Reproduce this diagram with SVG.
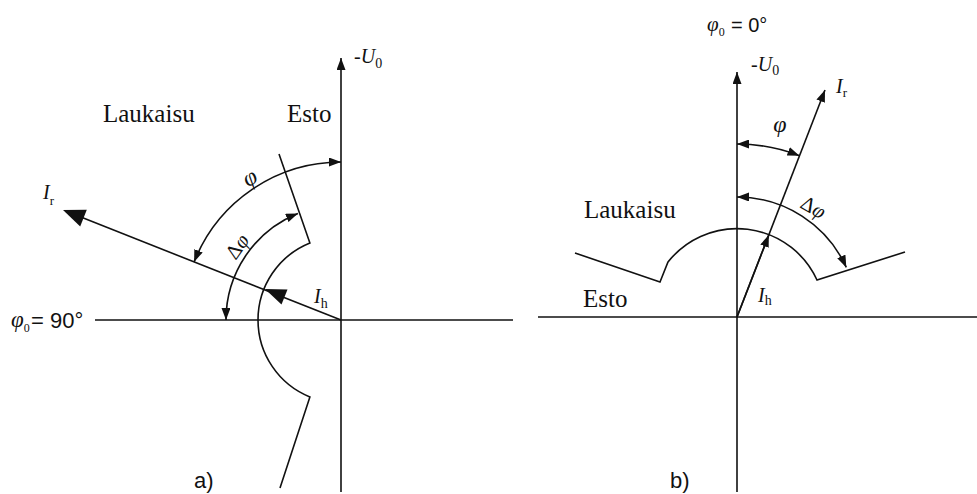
<svg xmlns="http://www.w3.org/2000/svg" width="977" height="494" viewBox="0 0 977 494">
<style>
.ln{fill:none;stroke:#111;stroke-width:1.6}
.ar{marker-end:url(#ah)}
.ar2{marker-start:url(#ah);marker-end:url(#ah)}
.sr{font-family:"Liberation Serif","DejaVu Serif",serif;fill:#111}
.it{font-style:italic}
.ss{font-family:"Liberation Sans","DejaVu Sans",sans-serif;fill:#111}
</style>
<defs>
<marker id="ah" markerUnits="userSpaceOnUse" markerWidth="12" markerHeight="9" refX="12" refY="4.5" orient="auto-start-reverse">
<path d="M0,0 L12,4.5 L0,9 z" fill="#111"/>
</marker>
</defs>
<rect width="977" height="494" fill="#fff"/>

<g id="connectors">
<!-- diagram a -->
<path class="ln ar" d="M341,492 L341,58"/>
<path class="ln" d="M95,320 L513,320"/>
<path class="ln" d="M341,320 L72,213.6"/>
<path class="ln ar2" d="M194.1,261.9 A158,158 0 0 1 341,162"/>
<path class="ln ar2" d="M297.9,213.4 A115,115 0 0 0 226,320"/>
<path class="ln" d="M279,154 L309.9,243 A83,83 0 0 0 309.9,396.9 L280,488"/>
<!-- diagram b -->
<path class="ln ar" d="M737,492 L737,72"/>
<path class="ln" d="M538,317 L977,317"/>
<path class="ln ar" d="M737,317 L825,90"/>
<path class="ln ar" d="M737,317 L768.8,235"/>
<path class="ln ar2" d="M737,144 A173,173 0 0 1 799.5,155.7"/>
<path class="ln ar2" d="M737,197 A120,120 0 0 1 846.3,267.4"/>
<path class="ln" d="M575,253 L660,282 L668,262 A88,88 0 0 1 817,280 L905,252"/>
</g>

<g id="arrowheads-a">
<polygon points="63,210 86.8,209.7 80.2,226.5" fill="#111"/>
<polygon points="265,289 287.5,289.5 281.5,304.5" fill="#111"/>
</g>

<g id="labels-a">
<text class="sr" x="103" y="122" font-size="25">Laukaisu</text>
<text class="sr" x="287" y="122" font-size="25">Esto</text>
<text class="sr" x="354" y="63" font-size="20">-<tspan class="it">U</tspan><tspan font-size="14" dy="5">0</tspan></text>
<text class="sr" x="43" y="199" font-size="20"><tspan class="it">I</tspan><tspan font-size="13" dy="6">r</tspan></text>
<text class="sr" x="314" y="303" font-size="20"><tspan class="it">I</tspan><tspan font-size="14" dy="5">h</tspan></text>
<text class="sr it" x="250" y="185" font-size="24" text-anchor="middle" transform="rotate(-30 250 178)">φ</text>
<text class="sr" x="238" y="253" font-size="21" text-anchor="middle" transform="rotate(-55 238 247)">Δ<tspan class="it">φ</tspan></text>
<text class="sr" x="11" y="327" font-size="23"><tspan class="it">φ</tspan><tspan font-size="12" dy="5">0</tspan></text>
<text class="ss" x="31" y="328" font-size="22">= 90°</text>
<text class="ss" x="194" y="488" font-size="22">a)</text>
</g>

<g id="labels-b">
<text class="sr" x="707" y="31" font-size="21"><tspan class="it">φ</tspan><tspan font-size="12" dy="5">0</tspan></text>
<text class="ss" x="731" y="32" font-size="20">= 0°</text>
<text class="sr" x="751" y="71" font-size="20">-<tspan class="it">U</tspan><tspan font-size="14" dy="4">0</tspan></text>
<text class="sr" x="836" y="93" font-size="20"><tspan class="it">I</tspan><tspan font-size="13" dy="4">r</tspan></text>
<text class="sr" x="758" y="302" font-size="20"><tspan class="it">I</tspan><tspan font-size="14" dy="3">h</tspan></text>
<text class="sr it" x="780" y="132" font-size="24" text-anchor="middle">φ</text>
<text class="sr" x="813" y="214" font-size="21" text-anchor="middle" transform="rotate(30 813 208)">Δ<tspan class="it">φ</tspan></text>
<text class="sr" x="584" y="218" font-size="25">Laukaisu</text>
<text class="sr" x="583" y="307" font-size="25">Esto</text>
<text class="ss" x="670" y="488" font-size="22">b)</text>
</g>
</svg>
